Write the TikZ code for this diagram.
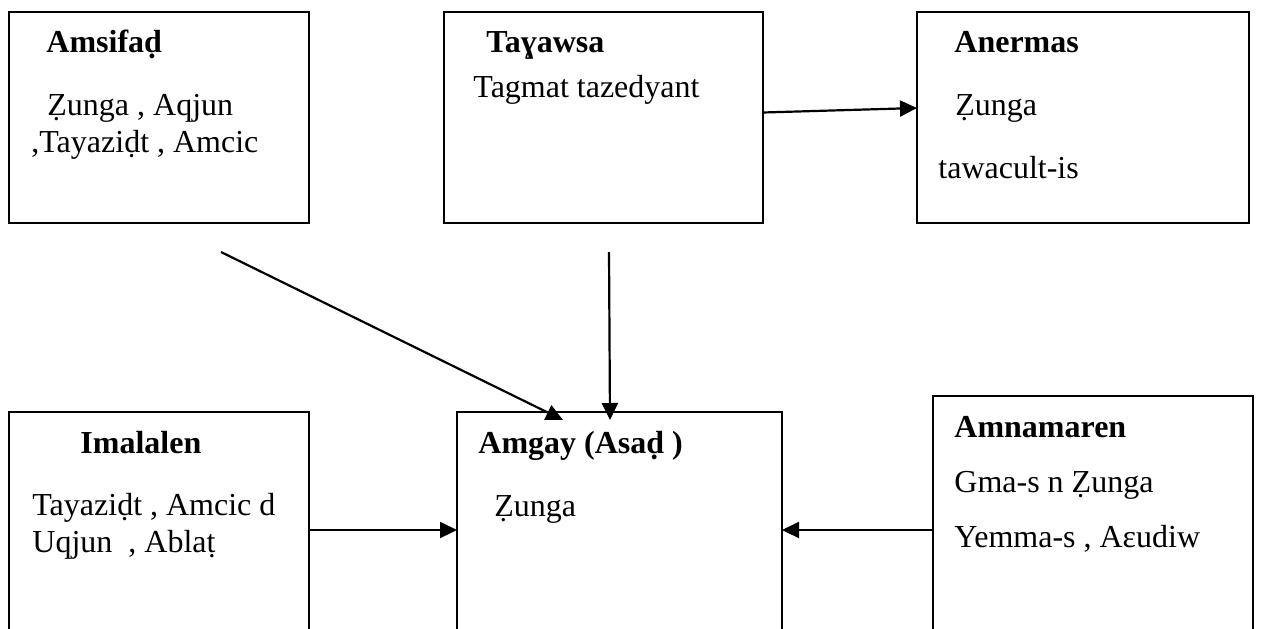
\documentclass[tikz,border=0pt]{standalone}
\usepackage{fontspec}
\setmainfont{Liberation Serif}
\usetikzlibrary{arrows.meta,positioning}

\begin{document}
\begin{tikzpicture}[
    x=0.5pt, y=-0.5pt,
    every node/.style={font=\fontsize{16pt}{18pt}\selectfont},
    box/.style={rectangle, draw=black, line width=1pt, inner sep=0pt, outer sep=0pt, anchor=north west, minimum height=105.5pt},
    txt/.style={anchor=base west, inner sep=0pt},
    head/.style={anchor=base west, inner sep=0pt, font=\fontsize{16pt}{18pt}\selectfont\bfseries},
    arrow/.style={-{Triangle[length=8.5pt,width=8pt]}, line width=1.1pt, black}
]
\useasboundingbox (0,0) rectangle (1263,628);

% Top row
\node[box, minimum width=150pt] (amsifad) at (9,12) {};
\node[box, minimum width=159.5pt] (tagawsa) at (444,12) {};
\node[box, minimum width=166pt] (anermas) at (917,12) {};

% Bottom row
\node[box, minimum width=150pt, minimum height=150pt] (imalalen) at (9,412) {};
\node[box, minimum width=162.5pt, minimum height=150pt] (amgay) at (457,412) {};
\node[box, minimum width=160pt, minimum height=150pt] (amnamaren) at (933,396) {};

% Texts
\node[head] (amsifad-h) at (46,52) {Amsifaḍ};
\node[txt] (amsifad-1) at (47,115) {Ẓunga , Aqjun};
\node[txt] (amsifad-2) at (31,152) {,Tayaziḍt , Amcic};

\node[head] (tagawsa-h) at (486,52) {Taɣawsa};
\node[txt] (tagawsa-1) at (473,97) {Tagmat tazedyant};

\node[head] (anermas-h) at (954,52) {Anermas};
\node[txt] (anermas-1) at (955,115) {Ẓunga};
\node[txt] (anermas-2) at (938,178) {tawacult-is};

\node[head] (imalalen-h) at (80,453) {Imalalen};
\node[txt] (imalalen-1) at (32,515) {Tayaziḍt , Amcic d};
\node[txt] (imalalen-2) at (32,552) {Uqjun~ , Ablaṭ};

\node[head] (amgay-h) at (478,453) {Amgay (Asaḍ )};
\node[txt] (amgay-1) at (494,516) {Ẓunga};

\node[head] (amnamaren-h) at (954,437) {Amnamaren};
\node[txt] (amnamaren-1) at (954,492) {Gma-s n Ẓunga};
\node[txt] (amnamaren-2) at (954,547) {Yemma-s , Aɛudiw};

% Free ends
\coordinate (s1) at (221,252);
\coordinate (s2) at (609,252);

% Arrows
\draw[arrow] ([yshift=2.5pt]tagawsa.east) -- ([yshift=4.75pt]anermas.west);
\draw[arrow] (s1) -- ([xshift=53pt,yshift=-4pt]amgay.north west);
\draw[arrow] (s2) -- ([xshift=76.5pt,yshift=-4pt]amgay.north west);
\draw[arrow] ([yshift=-59pt]imalalen.north east) -- ([yshift=-59pt]amgay.north west);
\draw[arrow] ([yshift=-67pt]amnamaren.north west) -- ([yshift=-59pt]amgay.north east);

\end{tikzpicture}
\end{document}
